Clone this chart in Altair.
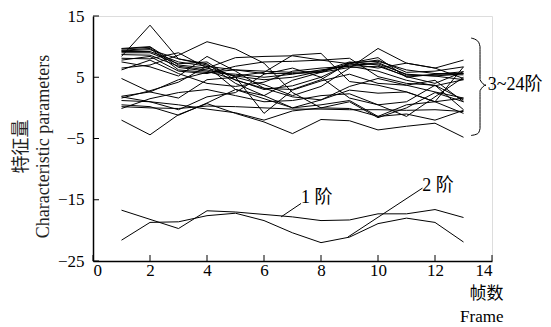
import altair as alt
import pandas as pd

frames = list(range(1, 14))

# orders 3..24
order_vals = {
    "A": [-2.0, -4.4, -1.1, 0.7, -0.9, -2.3, -4.2, -1.9, -2.1, -3.6, -3.0, -2.5, -4.8],
    "B": [8.4, 13.5, 8.0, 7.0, 5.0, 3.8, 2.0, 3.5, 6.5, 9.7, 7.3, 6.5, 4.8],
    "C": [6.5, 7.0, 8.6, 10.8, 9.6, 7.3, 2.5, 0.0, -0.1, -1.4, 0.5, 1.0, -0.9],
    "D": [4.8, 2.6, 1.6, 4.6, 5.0, -0.9, 2.9, 4.4, 5.5, 4.0, 3.7, 2.6, 1.6],
    "E": [1.9, 2.6, 4.6, 5.8, 6.2, 6.0, 5.8, 6.0, 7.5, 7.0, 5.1, 4.0, 5.9],
    "F": [1.8, 1.0, -0.3, 1.8, 2.5, 5.5, 6.5, 5.0, 1.6, 0.5, 1.0, 3.7, -0.3],
    "G": [1.6, 2.8, 4.2, 6.8, 3.0, 2.0, 0.0, 1.3, 2.9, 2.4, 2.6, 1.0, 6.7],
    "H": [0.2, 0.0, -0.1, 0.3, 0.2, 0.0, -0.2, -0.2, -0.3, -0.3, -0.4, -0.3, -0.6],
    "I": [1.2, 1.0, 0.5, -0.2, -0.8, -2.0, -0.5, 0.0, 1.0, -1.6, 0.0, 2.5, 1.0],
    "J": [9.7, 10.0, 7.0, 6.5, 5.2, 4.6, 5.0, 6.0, 7.0, 7.2, 5.5, 5.2, 5.6],
    "K": [9.6, 9.9, 6.6, 6.0, 4.6, 3.0, 3.6, 5.0, 7.2, 7.8, 5.8, 6.0, 6.7],
    "L": [9.4, 9.7, 6.2, 5.8, 5.5, 5.0, 5.5, 6.2, 6.8, 7.4, 5.4, 5.2, 4.6],
    "M": [9.3, 9.5, 8.0, 7.2, 4.0, 2.0, 4.5, 5.8, 7.3, 8.2, 5.0, 5.5, 5.9],
    "N": [9.2, 9.2, 7.5, 6.8, 6.2, 5.6, 5.6, 5.8, 6.6, 6.8, 5.2, 5.4, 5.4],
    "O": [9.0, 9.0, 7.2, 7.5, 4.5, 3.2, 3.0, 4.6, 7.4, 7.6, 6.2, 5.6, 5.6],
    "P": [8.7, 8.6, 6.8, 6.2, 5.2, 5.8, 8.6, 8.9, 4.3, 3.7, 2.6, 1.0, 1.6],
    "Q": [8.1, 8.0, 9.0, 6.5, 8.2, 8.4, 8.5, 7.8, 8.1, 5.1, 4.0, 3.7, 1.3],
    "R": [7.8, 8.4, 6.0, 5.6, 6.8, 7.5, 7.6, 7.8, 7.2, 6.5, 7.3, 6.5, 7.8],
    "S": [7.5, 6.7, 5.2, 8.4, 6.0, 3.2, 1.8, 1.3, 3.5, 4.8, 3.7, 4.5, 1.0],
    "T": [6.2, 7.8, 5.6, 4.0, 3.5, 4.2, 6.0, 6.5, 6.8, 6.0, 4.5, 3.6, 4.6],
    "U": [-0.1, 1.5, 2.5, 3.0, 2.0, 1.0, 1.2, 2.0, 2.3, 0.5, -1.4, 1.8, 5.0],
    "V": [0.5, 0.2, -1.2, 0.8, 3.0, 1.5, 0.0, 0.5, 1.2, -1.4, -1.0, -2.0, -0.4],
}
order1 = [-16.7, -18.2, -19.7, -16.8, -17.0, -17.4, -17.8, -18.4, -18.3, -17.3, -17.3, -16.6, -17.9]
order2 = [-21.6, -18.7, -18.6, -17.6, -17.2, -18.4, -20.4, -22.0, -21.1, -18.9, -18.0, -18.7, -21.9]

x_ticks = [0, 2, 4, 6, 8, 10, 12, 14]
y_ticks = [15, 5, -5, -15, -25]

# annotation data (data units)
brace_x = [13.27, 13.5, 13.58, 13.58, 13.79, 13.58, 13.58, 13.5, 13.27]
brace_y = [11.4, 10.9, 10.0, 4.6, 3.7, 2.8, -3.4, -4.2, -4.5]
leaders = pd.DataFrame({
    "x": [6.6, 8.94], "y": [-17.8, -21.1],
    "x2": [7.3, 11.56], "y2": [-15.6, -13.1],
})
labels = pd.DataFrame({
    "x": [7.3, 11.55, 13.85], "y": [-14.7, -12.7, 3.7],
    "t": ["1 阶", "2 阶", "3~24阶"],
})

rows = []
for k, vals in order_vals.items():
    for f, v in zip(frames, vals):
        rows.append({"s": k, "f": f, "v": v})
for f, v in zip(frames, order1):
    rows.append({"s": "o1", "f": f, "v": v})
for f, v in zip(frames, order2):
    rows.append({"s": "o2", "f": f, "v": v})
df = pd.DataFrame(rows)

FONT = "Liberation Serif, Noto Sans CJK SC"
W, H = 399, 245

xs = alt.Scale(domain=[0, 14], nice=False)
ys = alt.Scale(domain=[-25, 15], nice=False)

lines = alt.Chart(df).mark_line(color="black", strokeWidth=1).encode(
    x=alt.X("f:Q", scale=xs, axis=alt.Axis(
        values=x_ticks, ticks=False, grid=False, domainColor="black", domainWidth=1.5,
        labelFont=FONT, labelFontSize=17, labelColor="black", labelPadding=1,
        title=["帧数", "Frame"], titleFont=FONT, titleFontSize=17, titleFontWeight="normal",
        titleColor="black", titleAnchor="end", titleAlign="right", titleX=410, titleY=37,
        titleLineHeight=23, titleBaseline="alphabetic")),
    y=alt.Y("v:Q", scale=ys, axis=alt.Axis(
        values=y_ticks, ticks=False, grid=False, domainColor="black", domainWidth=1.5,
        labelFont=FONT, labelFontSize=17, labelColor="black", labelPadding=9,
        labelExpr="datum.value < 0 ? '\u2212' + abs(datum.value) : datum.label",
        title=["特征量", "Characteristic parameters"], titleFont=FONT, titleFontSize=18,
        titleFontWeight="normal", titleColor="#222222", titleX=-72, titleY=130,
        titleLineHeight=22, titleBaseline="middle", titleAlign="center")),
    detail="s:N",
)

xt = alt.Chart(pd.DataFrame({"t": x_ticks})).mark_rule(color="black", strokeWidth=1).encode(
    x=alt.X("t:Q", scale=xs), y=alt.value(H - 6), y2=alt.value(H))
yt = alt.Chart(pd.DataFrame({"t": y_ticks})).mark_rule(color="black", strokeWidth=1).encode(
    y=alt.Y("t:Q", scale=ys), x=alt.value(0), x2=alt.value(6))

lead = alt.Chart(leaders).mark_rule(color="black", strokeWidth=1).encode(
    x=alt.X("x:Q", scale=xs), y=alt.Y("y:Q", scale=ys), x2="x2:Q", y2="y2:Q")

brace = alt.Chart(pd.DataFrame({"x": brace_x, "y": brace_y, "o": list(range(len(brace_x)))})).mark_line(
    color="black", strokeWidth=1, interpolate="monotone").encode(
    x=alt.X("x:Q", scale=xs), y=alt.Y("y:Q", scale=ys), order="o:Q")

txt = alt.Chart(labels).mark_text(font=FONT, fontSize=18, align="left", baseline="middle",
                                  color="black").encode(
    x=alt.X("x:Q", scale=xs), y=alt.Y("y:Q", scale=ys), text="t:N")

chart = alt.layer(lines, xt, yt, lead, brace, txt).properties(
    width=W, height=H,
    autosize=alt.AutoSizeParams(type="none"),
    padding={"left": 93, "top": 16, "right": 59, "bottom": 66},
).configure_view(stroke=None).configure(background="white")

chart.save("out.html", embed_options={"renderer": "svg", "actions": False})
